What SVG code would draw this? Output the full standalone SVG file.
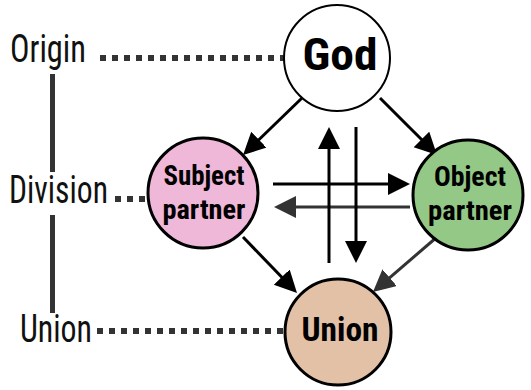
<svg xmlns="http://www.w3.org/2000/svg" width="531" height="390" viewBox="0 0 531 390">
<style>
.lbl{font-family:"Liberation Sans Narrow","Roboto Condensed","Liberation Sans",sans-serif;font-size:38px;fill:#111;}
.nt{font-family:"Liberation Sans Narrow","Roboto Condensed","Liberation Sans",sans-serif;font-weight:bold;fill:#000;text-anchor:middle;}
.dot{stroke:#333;stroke-width:6;stroke-dasharray:6 6;fill:none;}
.node{stroke:#000;stroke-width:3;}
.ar{stroke:#000;stroke-width:3;fill:none;marker-end:url(#ah);}
.ar2{stroke:#333;stroke-width:3;fill:none;marker-end:url(#ah2);}
</style>
<defs>
<marker id="ah" markerUnits="userSpaceOnUse" markerWidth="24" markerHeight="24" refX="4" refY="11" orient="auto"><path d="M0,0 L22,11 L0,22 z" fill="#000"/></marker>
<marker id="ah2" markerUnits="userSpaceOnUse" markerWidth="24" markerHeight="24" refX="4" refY="11" orient="auto"><path d="M0,0 L22,11 L0,22 z" fill="#333"/></marker>
</defs>
<g id="levels">
<text class="lbl" x="10" y="62" textLength="76" lengthAdjust="spacingAndGlyphs">Origin</text>
<text class="lbl" x="9" y="203" textLength="99" lengthAdjust="spacingAndGlyphs">Division</text>
<text class="lbl" x="20" y="342" textLength="72" lengthAdjust="spacingAndGlyphs">Union</text>
<line x1="52.5" y1="74" x2="52.5" y2="172" stroke="#333" stroke-width="5"/>
<line x1="52.5" y1="215" x2="52.5" y2="313" stroke="#333" stroke-width="5"/>
</g>
<g id="connectors">
<line class="dot" x1="100" y1="58" x2="284" y2="58"/>
<line class="dot" x1="115" y1="199" x2="148" y2="199"/>
<line class="dot" x1="97" y1="331" x2="285" y2="331"/>
<line class="ar" x1="302" y1="98" x2="256" y2="142.5"/>
<line class="ar" x1="380" y1="98" x2="424.3" y2="142.3"/>
<line class="ar" x1="243" y1="237" x2="284.5" y2="280"/>
<line class="ar2" x1="437" y1="237" x2="386.6" y2="280.3"/>
<line class="ar" x1="273" y1="184" x2="392" y2="184"/>
<line class="ar2" x1="410" y1="207" x2="292" y2="207"/>
<line class="ar" x1="329" y1="263" x2="329" y2="145"/>
<line class="ar" x1="356" y1="127" x2="356" y2="245"/>
</g>
<g id="god">
<circle cx="337" cy="58" r="53" fill="#fff" stroke="#000" stroke-width="2"/>
<text class="nt" x="340" y="70" font-size="45" textLength="75" lengthAdjust="spacingAndGlyphs">God</text>
</g>
<g id="subject">
<circle class="node" cx="203" cy="193" r="55" fill="#efb7d8"/>
<text class="nt" x="204" y="185" font-size="28.5" textLength="81" lengthAdjust="spacingAndGlyphs">Subject</text>
<text class="nt" x="204" y="219" font-size="28.5" textLength="83" lengthAdjust="spacingAndGlyphs">partner</text>
</g>
<g id="object">
<circle class="node" cx="468" cy="195" r="55" fill="#93c887"/>
<text class="nt" x="470" y="186" font-size="28.5" textLength="72" lengthAdjust="spacingAndGlyphs">Object</text>
<text class="nt" x="470" y="220" font-size="28.5" textLength="84" lengthAdjust="spacingAndGlyphs">partner</text>
</g>
<g id="union">
<circle class="node" cx="338" cy="332" r="53" fill="#e3c1a7"/>
<text class="nt" x="340" y="341" font-size="34" textLength="77" lengthAdjust="spacingAndGlyphs">Union</text>
</g>
</svg>
